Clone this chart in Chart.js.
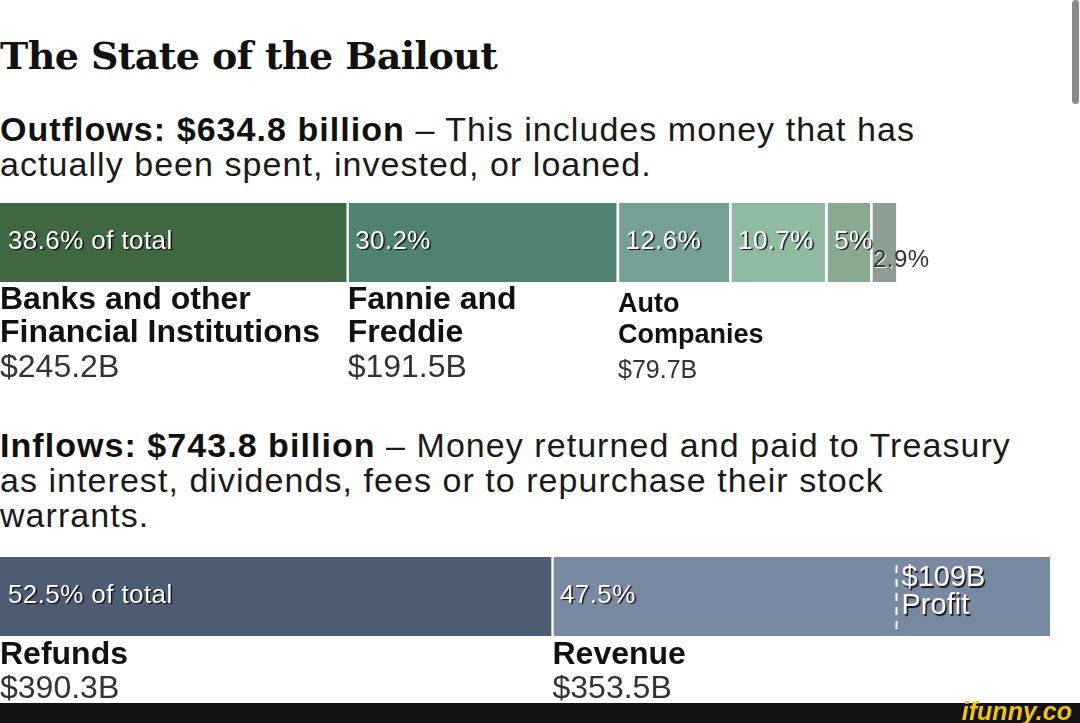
<!DOCTYPE html>
<html>
<head>
<meta charset="utf-8">
<script src="https://cdn.jsdelivr.net/npm/chart.js@4.4.1/dist/chart.umd.min.js"></script>
<style>
  html, body { margin: 0; padding: 0; background: #fff; }
  body { width: 1080px; height: 723px; overflow: hidden; position: relative; font-family: "Liberation Sans", Arial, sans-serif; }
  #title { position: absolute; left: 0; top: 37px; font-family: "DejaVu Serif", serif; font-weight: bold; font-size: 38px; line-height: 38px; letter-spacing: -0.6px; color: #111; white-space: nowrap; }
  .para { position: absolute; left: 0; font-size: 34px; line-height: 35px; letter-spacing: 1.05px; color: #1a1a1a; white-space: nowrap; }
  .para b { color: #111; }
  #p1 { top: 112px; }
  #p2 { top: 428px; }
  canvas { position: absolute; left: 0; }
  #c1 { top: 203px; }
  #c2 { top: 557px; }
  #scroll { position: absolute; left: 1072px; top: 0; width: 7px; height: 104px; background: #8a8a8a; border-radius: 4px; }
  #footer { position: absolute; left: 0; top: 703px; width: 1080px; height: 20px; background: #121212; z-index: 5; }
  #footer span { position: absolute; right: 8px; top: -6px; font: italic bold 25px "Liberation Sans", sans-serif; color: #f5c400; }
</style>
</head>
<body>
<div id="title">The State of the Bailout</div>
<div class="para" id="p1"><b>Outflows: $634.8 billion</b> – This includes money that has<br>actually been spent, invested, or loaned.</div>
<div class="para" id="p2"><b>Inflows: $743.8 billion</b> – Money returned and paid to Treasury<br>as interest, dividends, fees or to repurchase their stock<br>warrants.</div>
<canvas id="c1" width="1080" height="185"></canvas>
<canvas id="c2" width="1080" height="166"></canvas>
<div id="scroll"></div>
<div id="footer"><span>ifunny.co</span></div>
<script>
// ---------- data ----------
const outflowNameLines = [['Banks and other', 'Financial Institutions'], ['Fannie and', 'Freddie'], ['Auto', 'Companies'], [], [], []];
const outflowBillions = [245.2, 191.5, 79.7, 68.1, 31.8, 18.5];
const outflowShareLabels = ['38.6% of total', '30.2%', '12.6%', '10.7%', '5%', '2.9%'];
const outflowAmountLabels = ['$245.2B', '$191.5B', '$79.7B', '', '', ''];

const inflowNameLines = [['Refunds'], ['Revenue']];
const inflowBillions = [390.3, 353.5];
const inflowShareLabels = ['52.5% of total', '47.5%'];
const inflowAmountLabels = ['$390.3B', '$353.5B'];

const outflowTotal = 634.8;
const profitLabelLines = ['$109B', 'Profit'];
const scaleMaxBillions = 765;

// ---------- styles ----------
const outflowColors = ['#3f6741', '#4f8270', '#75a097', '#8fbba1', '#8aaa8f', '#8c9d93'];
const inflowColors = ['#4e5c73', '#7a89a2'];
const outflowNameStyle = [
  { size: 32, base: [27, 60], vsize: 32, vbase: 95 },
  { size: 32, base: [27, 60], vsize: 32, vbase: 95 },
  { size: 27, base: [30, 61], vsize: 25, vbase: 96 },
  null, null, null
];
const inflowNameStyle = [
  { size: 32, base: [28], vsize: 32, vbase: 62 },
  { size: 32, base: [28], vsize: 32, vbase: 62 }
];

const segLabels = {
  id: 'segLabels',
  afterDatasetsDraw(chart, args, o) {
    const ctx = chart.ctx;
    const n = chart.data.datasets.length;
    for (let i = 0; i < n; i++) {
      const el = chart.getDatasetMeta(i).data[0];
      const xs = Math.min(el.base, el.x);
      const x0 = xs + (i > 0 ? 3 : 0);
      const yBot = el.y + el.height / 2;
      // share label
      ctx.save();
      ctx.font = '26px "Liberation Sans", Arial, sans-serif';
      ctx.letterSpacing = '0.4px';
      ctx.textBaseline = 'middle';
      if (o.outsideIndex === i) {
        ctx.font = '24px "Liberation Sans", Arial, sans-serif';
        ctx.fillStyle = '#333';
        ctx.shadowColor = 'rgba(255,255,255,0.9)';
        ctx.shadowOffsetX = 1; ctx.shadowOffsetY = 1; ctx.shadowBlur = 0;
        ctx.fillText(o.shares[i], x0, el.y + 18);
      } else {
        ctx.fillStyle = '#fff';
        ctx.shadowColor = 'rgba(0,0,0,0.85)';
        ctx.shadowOffsetX = 1.5; ctx.shadowOffsetY = 1.5; ctx.shadowBlur = 1;
        ctx.fillText(o.shares[i], x0 + (i === 0 ? 8 : 6), el.y - 1);
      }
      ctx.restore();
      // names below
      const st = o.styles[i];
      if (st) {
        const xl = xs + (i > 0 ? 1.5 : 0);
        ctx.save();
        ctx.textBaseline = 'alphabetic';
        ctx.fillStyle = '#111';
        ctx.font = 'bold ' + st.size + 'px "Liberation Sans", Arial, sans-serif';
        o.names[i].forEach((line, k) => ctx.fillText(line, xl, yBot + st.base[k]));
        ctx.fillStyle = '#333';
        ctx.font = st.vsize + 'px "Liberation Sans", Arial, sans-serif';
        ctx.fillText(o.amounts[i], xl, yBot + st.vbase);
        ctx.restore();
      }
    }
    if (o.marker !== undefined) {
      const xsc = chart.scales.x;
      const px = Math.round(xsc.getPixelForValue(o.marker)) + 0.5;
      const el = chart.getDatasetMeta(0).data[0];
      const yTop = el.y - el.height / 2;
      ctx.save();
      ctx.strokeStyle = '#fff';
      ctx.lineWidth = 2;
      ctx.setLineDash([8, 6]);
      ctx.beginPath();
      ctx.moveTo(px, yTop + 8);
      ctx.lineTo(px, yTop + el.height - 6);
      ctx.stroke();
      ctx.setLineDash([]);
      ctx.fillStyle = '#fff';
      ctx.shadowColor = 'rgba(0,0,0,0.85)';
      ctx.shadowOffsetX = 1.5; ctx.shadowOffsetY = 1.5; ctx.shadowBlur = 1;
      ctx.font = '29px "Liberation Sans", Arial, sans-serif';
      ctx.fillText(o.markerLines[0], px + 5, yTop + 29);
      ctx.fillText(o.markerLines[1], px + 5, yTop + 57);
      ctx.restore();
    }
  }
};

function makeChart(id, values, colors, padBottom, pluginOpts) {
  return new Chart(document.getElementById(id), {
    type: 'bar',
    data: {
      labels: [''],
      datasets: values.map((v, i) => ({
        data: [v],
        backgroundColor: colors[i],
        borderColor: '#ffffff',
        borderWidth: i > 0 ? { left: 3, right: 0, top: 0, bottom: 0 } : 0,
        borderSkipped: false,
        barPercentage: 1,
        categoryPercentage: 1
      }))
    },
    options: {
      indexAxis: 'y',
      responsive: false,
      animation: false,
      devicePixelRatio: 1,
      layout: { padding: { left: 0, right: 0, top: 0, bottom: padBottom } },
      scales: {
        x: { stacked: true, min: 0, max: scaleMaxBillions, display: false },
        y: { stacked: true, display: false }
      },
      plugins: {
        legend: { display: false },
        tooltip: { enabled: false },
        segLabels: pluginOpts
      }
    },
    plugins: [segLabels]
  });
}

makeChart('c1', outflowBillions, outflowColors, 106, {
  shares: outflowShareLabels, names: outflowNameLines, amounts: outflowAmountLabels,
  styles: outflowNameStyle, outsideIndex: 5
});
makeChart('c2', inflowBillions, inflowColors, 87, {
  shares: inflowShareLabels, names: inflowNameLines, amounts: inflowAmountLabels,
  styles: inflowNameStyle, marker: outflowTotal, markerLines: profitLabelLines
});
</script>
</body>
</html>
